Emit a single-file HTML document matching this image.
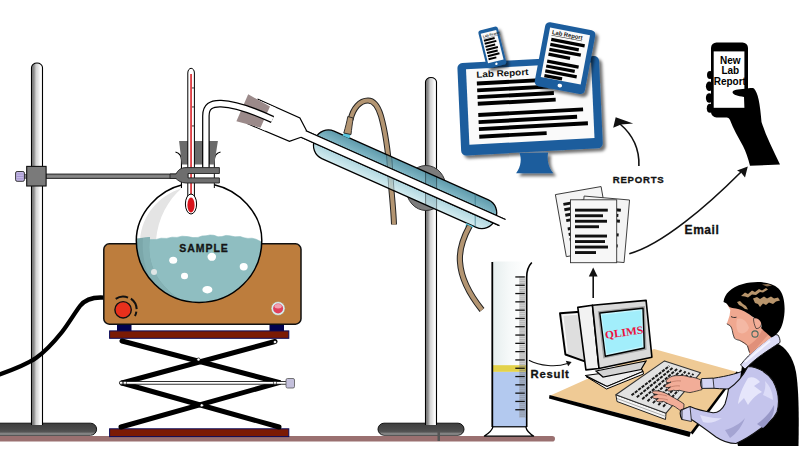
<!DOCTYPE html>
<html><head><meta charset="utf-8">
<style>
html,body{margin:0;padding:0;background:#fff;width:800px;height:475px;overflow:hidden}
svg{display:block}
text{font-family:"Liberation Sans",sans-serif}
</style></head><body>
<svg width="800" height="475" viewBox="0 0 800 475">
<defs>
<linearGradient id="pole" x1="0" x2="1" y1="0" y2="0">
<stop offset="0" stop-color="#7a7a7a"/><stop offset="0.22" stop-color="#8a8a8a"/><stop offset="0.42" stop-color="#d2d2d2"/><stop offset="0.6" stop-color="#e2e2e2"/><stop offset="0.85" stop-color="#ffffff"/><stop offset="1" stop-color="#f2f2f2"/>
</linearGradient>
<linearGradient id="base" x1="0" x2="0" y1="0" y2="1">
<stop offset="0" stop-color="#3e3e3e"/><stop offset="0.5" stop-color="#4a4a4a"/><stop offset="0.72" stop-color="#545454"/><stop offset="0.88" stop-color="#8a8a8a"/><stop offset="1" stop-color="#d8d8d8"/>
</linearGradient>
<linearGradient id="flaskTop" x1="0" x2="1" y1="0" y2="0">
<stop offset="0" stop-color="#e9e9e9"/><stop offset="0.35" stop-color="#ffffff"/><stop offset="1" stop-color="#ffffff"/>
</linearGradient>
<linearGradient id="liquid" x1="0" x2="1" y1="0" y2="0">
<stop offset="0" stop-color="#7aa6a9"/><stop offset="0.3" stop-color="#8dbcbf"/><stop offset="1" stop-color="#93c2c4"/>
</linearGradient>
<linearGradient id="jacket" x1="0" x2="0" y1="0" y2="1">
<stop offset="0" stop-color="#5e9aab"/><stop offset="0.45" stop-color="#8cc0cd"/><stop offset="0.55" stop-color="#a8d2dc"/><stop offset="1" stop-color="#d4ecf0"/>
</linearGradient>
<linearGradient id="cyl" x1="0" x2="1" y1="0" y2="0">
<stop offset="0" stop-color="#e6eeee"/><stop offset="0.5" stop-color="#f6f9f9"/><stop offset="1" stop-color="#ffffff"/>
</linearGradient>

<filter id="shadow" x="-10%" y="-10%" width="130%" height="130%">
<feGaussianBlur in="SourceAlpha" stdDeviation="1.6"/>
<feOffset dx="2.5" dy="3" result="b"/>
<feFlood flood-color="#000" flood-opacity="0.55"/>
<feComposite in2="b" operator="in"/>
<feMerge><feMergeNode/><feMergeNode in="SourceGraphic"/></feMerge>
</filter>
</defs>

<!-- floor -->
<rect x="-5" y="436" width="560" height="5.6" rx="2.8" fill="#9a7070"/>

<!-- left stand -->
<rect x="-10" y="423.2" width="106.6" height="12" rx="6" fill="url(#base)" stroke="#111" stroke-width="1"/>
<path d="M31.5,425 V67.5 A5.5,4.5 0 0 1 42.5,67.5 V425" fill="url(#pole)" stroke="#000" stroke-width="1.1"/>

<!-- right stand -->
<rect x="378" y="423.2" width="86" height="12" rx="6" fill="url(#base)" stroke="#111" stroke-width="1"/>
<path d="M425.5,425 V82 A5.5,4.5 0 0 1 436.5,82 V425" fill="url(#pole)" stroke="#000" stroke-width="1.1"/>
<rect x="437.5" y="432" width="2.5" height="9" fill="#555"/>


<!-- power cord -->
<path d="M104,297.6 C95,297 86,298.3 80,306 C74,314 69,323 62,332 C54,342 46,351 36,358 C25,365.5 12,370 -2,375" fill="none" stroke="#000" stroke-width="4.3"/>

<!-- left clamp -->
<defs><linearGradient id="rodg" x1="0" x2="0" y1="0" y2="1"><stop offset="0" stop-color="#666"/><stop offset="0.5" stop-color="#8e8e8e"/><stop offset="1" stop-color="#666"/></linearGradient></defs>
<rect x="23.5" y="174.6" width="4" height="3.6" fill="#888" stroke="#222" stroke-width="0.6"/>
<rect x="15.6" y="171.5" width="8.8" height="9.8" rx="1.5" fill="#c4b8e6" stroke="#222" stroke-width="0.9"/>
<path d="M16.5,174 H23.5 M16.5,176.4 H23.5 M16.5,178.8 H23.5" stroke="#9c8cc8" stroke-width="0.8"/>
<rect x="46" y="174" width="131" height="4.4" fill="url(#rodg)" stroke="#1a1a1a" stroke-width="0.8"/>
<rect x="26.7" y="166.4" width="19.4" height="19.6" fill="#7a7a7a" stroke="#111" stroke-width="1.1"/>

<!-- hot plate feet -->
<rect x="117" y="323" width="14.5" height="8" fill="#02024e"/>
<rect x="269.5" y="323" width="14.5" height="8" fill="#02024e"/>
<!-- hot plate -->
<rect x="103.8" y="243.8" width="197.2" height="80.4" rx="5.5" fill="#bd7d3d" stroke="#111" stroke-width="1.5"/>
<!-- knob -->
<path d="M115.72,298.86 A13.2,13.2 0 0 1 128.04,297.56 M130.90,298.66 A13.6,13.6 0 0 1 136.68,309.09 M136.37,311.66 A13.4,13.4 0 0 1 134.93,316.09" fill="none" stroke="#111" stroke-width="2"/>
<circle cx="123.1" cy="309.8" r="8.2" fill="#e8301c" stroke="#111" stroke-width="1.4"/>
<circle cx="278.1" cy="308.5" r="7" fill="#d6eef0" stroke="#b07a40" stroke-width="0.6"/>
<circle cx="278.1" cy="308.5" r="5" fill="#e0405c"/>
<ellipse cx="278.1" cy="306.3" rx="3.6" ry="2.2" fill="#f2a0b0"/>
<!-- scissor lift -->
<rect x="109.6" y="330.9" width="179.2" height="7.4" fill="#7b1a04" stroke="#0a0a5a" stroke-width="1"/>
<rect x="109.6" y="428.8" width="179.2" height="7.8" fill="#7b1a04" stroke="#0a0a5a" stroke-width="1"/>
<g stroke="#000" stroke-width="5" stroke-linecap="round">
<line x1="122" y1="341" x2="279" y2="382.5"/>
<line x1="275" y1="341.5" x2="122" y2="383"/>
<line x1="122" y1="383" x2="279" y2="427"/>
<line x1="279" y1="382.5" x2="121" y2="427"/>
</g>
<rect x="121" y="381.4" width="166" height="2.8" fill="#fff" stroke="#000" stroke-width="0.8"/>
<rect x="286" y="378.5" width="8.5" height="9.5" rx="1.5" fill="#c4c0dc" stroke="#555" stroke-width="0.8"/>
<g fill="#fff" stroke="#000" stroke-width="0.6">
<circle cx="198.5" cy="359.5" r="1.6"/><circle cx="201.8" cy="405.3" r="1.6"/>
<circle cx="275" cy="342" r="1.6"/><circle cx="121" cy="382.8" r="1.6"/><circle cx="125" cy="382.8" r="1.6"/><circle cx="275" cy="382.8" r="1.6"/>
</g>


<!-- flask -->
<clipPath id="flaskClip"><path id="flaskPath" d="M182.4,184.7 C160,190 136.3,212 136.3,240.5 A62.75,62 0 0 0 261.8,240.5 C261.8,212 238,190 214.2,184.7 Z"/></clipPath>
<path d="M182.4,184.7 C160,190 136.3,212 136.3,240.5 A62.75,62 0 0 0 261.8,240.5 C261.8,212 238,190 214.2,184.7 Z" fill="#fff"/>
<g clip-path="url(#flaskClip)">
<path d="M140,240 C142,215 158,196 182,188 C168,200 158,218 156,240 Z" fill="#e4e4e4"/>
<path d="M130,240.5 L136.3,240 L141,238.8 L145.5,238.4 L150,239.6 L156,239.5 L161,238.2 L166.6,238.4 L172,237.2 L177,237.4 L182,236.2 L187.6,236.6 L193,237.6 L198,237.4 L202,236 L206,235.8 L210,235.0 L214,235.3 L218,236.8 L221.8,236.6 L226,235.4 L229.7,235.8 L235,236.8 L240.3,236.6 L244,237.8 L248,238.4 L252,238.2 L256,239.2 L261.3,241.8 L270,242 V310 H130 Z" fill="#8fbec1" stroke="#8fbec1" stroke-width="0.6" stroke-linejoin="round"/>
<path d="M130,239 C136,238.5 142,238 150,237 C146,262 156,288 190,305 L130,310 Z" fill="#7ba7aa"/>
<path d="M150,237 C146,262 156,288 190,305 L175,305 C150,290 141,265 143,238 Z" fill="#84b1b4"/>
<g fill="#fff">
<ellipse cx="173.2" cy="260.3" rx="4" ry="3.5"/>
<ellipse cx="211.8" cy="256.8" rx="4.3" ry="4"/>
<ellipse cx="243.7" cy="266.8" rx="4" ry="3.7"/>
<ellipse cx="154" cy="272" rx="3" ry="3" fill="#dfe6e6"/>
<ellipse cx="184.5" cy="276" rx="3.5" ry="3.3"/>
<ellipse cx="207.4" cy="289.7" rx="5" ry="3.7"/>
</g>
</g>
<path d="M182.4,184.7 C160,190 136.3,212 136.3,240.5 A62.75,62 0 0 0 261.8,240.5 C261.8,212 238,190 214.2,184.7" fill="none" stroke="#000" stroke-width="1.5"/>
<text x="204" y="251.6" font-size="10.5" font-weight="bold" text-anchor="middle" letter-spacing="0.95" fill="#151515" stroke="#151515" stroke-width="0.3">SAMPLE</text>

<!-- neck -->
<path d="M181.5,188 V160 C181.5,156 179,153 175.5,152 M214.2,188 V160 C214.2,156 217,153 220.5,152" fill="none" stroke="#000" stroke-width="1.2"/>
<rect x="182.1" y="160" width="31.5" height="28" fill="#fff"/>
<!-- stopper -->
<path d="M179.1,141 H217.9 L214.2,164.6 H181.8 Z" fill="#6b6b6b"/>

<!-- upper hose (behind) -->
<path d="M350.5,120 C353,108 360,100.5 368,100.5 C374,100.5 378,106 381,116 C385,130 388,150 390,175 C392,195 393.5,210 394,224.5" fill="none" stroke="#222" stroke-width="6"/>
<path d="M350.5,120 C353,108 360,100.5 368,100.5 C374,100.5 378,106 381,116 C385,130 388,150 390,175 C392,195 393.5,210 394,224.5" fill="none" stroke="#b39572" stroke-width="4"/>
<!-- grey disk clamp behind condenser -->
<ellipse cx="426" cy="188" rx="20" ry="22.5" fill="#7c7c7c" stroke="#333" stroke-width="1"/>
<!-- condenser -->
<g transform="translate(380,168.1) rotate(24)">
  <rect x="-71" y="-15" width="197" height="30" rx="14" fill="url(#jacket)" fill-opacity="1" stroke="#000" stroke-width="1.3"/>
  <!-- hose nozzles -->
  <path d="M-47.5,-14.5 L-47,-19 L-40.5,-19 L-40,-14.5 Z" fill="#5ac8e0"/>
  <path d="M101,15 L102,19 L108,19 L109,15 Z" fill="#5ac8e0"/>
  <!-- adapter -->
  <path d="M-140,-13.3 H-93.6 L-82,-4 H135.5 L132.5,4 H-84.7 L-93.6,12.4 L-140,13.3" fill="#fff" stroke="none"/>
  <path d="M-140,-13.3 H-93.6 L-82,-4 M-84.7,4 L-93.6,12.4 L-140,13.3" fill="none" stroke="#000" stroke-width="1.2"/><rect x="-140" y="-12.6" width="20" height="25.2" fill="#fff"/>
  <!-- tube -->
  <path d="M-83,-4 H135.5 L132.5,4 H-84.7 Z" fill="#fff"/>
  <line x1="-83" y1="-4" x2="135.5" y2="-4" stroke="#000" stroke-width="1.2"/>
  <line x1="-84.7" y1="4" x2="132.5" y2="4" stroke="#000" stroke-width="1.2"/>
  <!-- sleeve -->
  <path d="M-150.4,-13.8 L-125.6,-11.6 L-125.6,11.7 L-150.3,15.5 Z" fill="#9b8a8a"/>
</g>
<clipPath id="jclip"><rect x="-71" y="-15" width="197" height="30" rx="14" transform="translate(380,168.1) rotate(24)"/></clipPath>
<g clip-path="url(#jclip)">
<rect x="425.5" y="140" width="11" height="90" fill="#0a3a4a" opacity="0.12"/>
<rect x="425" y="140" width="1.1" height="90" fill="#000" opacity="0.4"/>
<rect x="436" y="140" width="1.1" height="90" fill="#000" opacity="0.4"/>
<rect x="474.6" y="160" width="1.4" height="80" fill="#2a6a7a" opacity="0.45"/>
<path d="M385.6,140 L391.6,230 M390.6,140 L396.6,230" stroke="#000" stroke-width="1" opacity="0.35"/><path d="M388.1,140 L394.1,230" stroke="#8a7a5a" stroke-width="3.4" opacity="0.25"/>
</g>
<!-- re-draw tube over jacket seams -->
<g transform="translate(380,168.1) rotate(24)">
  <path d="M-83,-4 H135.5 L132.5,4 H-84.7 Z" fill="#fff"/>
  <line x1="-83" y1="-4" x2="135.5" y2="-4" stroke="#000" stroke-width="1.2"/>
  <line x1="-84.7" y1="4" x2="132.5" y2="4" stroke="#000" stroke-width="1.2"/>
</g>
<!-- upper hose nozzle flare -->
<path d="M343.8,133 C345.5,127 347,121 347.8,116.5 L353.2,118 C352.5,123 351.5,129 351,134.5 Z" fill="#b39572" stroke="#222" stroke-width="0.9"/>
<!-- lower hose -->
<path d="M469.6,226 C463,238 459,250 460,262 C461,278 470,295 482,310" fill="none" stroke="#222" stroke-width="6.2"/>
<path d="M469.6,226 C463,238 459,250 460,262 C461,278 470,295 482,310" fill="none" stroke="#b39572" stroke-width="4.2"/>

<!-- delivery tube -->
<path d="M205.9,168 V116 C205.9,106.5 211,103.3 221,103.6 C235,104.2 252,110 272.5,119.5" fill="none" stroke="#000" stroke-width="7.6"/>
<path d="M205.9,168 V116 C205.9,106.5 211,103.3 221,103.6 C235,104.2 252,110 272.5,119.5" fill="none" stroke="#fff" stroke-width="5.2"/>
<!-- thermometer -->
<path d="M187.8,200 V73 C187.8,70 189.5,68.3 191.1,68.3 C192.7,68.3 194.4,70 194.4,73 V200 Z" fill="#fff" stroke="#000" stroke-width="1"/>
<rect x="190.3" y="74" width="1.5" height="128" fill="#d8141c"/><rect x="192" y="87.5" width="2" height="0.9" fill="#222"/><rect x="192" y="106.5" width="2" height="0.9" fill="#222"/><rect x="192" y="125.5" width="2" height="0.9" fill="#222"/>
<ellipse cx="191" cy="204" rx="5.6" ry="10" fill="#fff" stroke="#000" stroke-width="1"/>
<ellipse cx="191" cy="205" rx="3.6" ry="7.5" fill="#d8141c"/>
<!-- clamp fork -->
<path d="M170,174 H176 C178,170 181,167.6 186,167.6 H219.4 V173.5 H188 V177.9 H219.4 V183 H186 C181,183 178,180.5 176,178.5 H170 Z" fill="#6e6e6e" stroke="#222" stroke-width="0.9"/>


<!-- graduated cylinder -->
<path d="M493,426.7 C492,431 488,434 484,436.2 H534 C530,434 526.5,431 525.8,426.7 Z" fill="#fff" stroke="#000" stroke-width="1.3"/>
<rect x="492.5" y="261.5" width="34" height="165.2" fill="url(#cyl)"/>
<rect x="492.5" y="371.8" width="34" height="55" fill="#b3c9ef"/>
<rect x="492.5" y="365.2" width="34" height="6.6" fill="#e3d24a"/>
<rect x="519" y="276" width="7" height="142" fill="#9a9a9a" opacity="0.3"/>
<rect x="515.3" y="276.3" width="9.5" height="1.3" fill="#111"/>
<rect x="519.5" y="278.5" width="5.5" height="1.4" fill="#666" opacity="0.35"/>
<rect x="519.5" y="280.6" width="5.5" height="1.4" fill="#666" opacity="0.35"/>
<rect x="519.5" y="282.6" width="5.5" height="1.4" fill="#666" opacity="0.35"/>
<rect x="515.3" y="284.6" width="9.5" height="1.3" fill="#111"/>
<rect x="519.5" y="286.8" width="5.5" height="1.4" fill="#666" opacity="0.35"/>
<rect x="519.5" y="288.9" width="5.5" height="1.4" fill="#666" opacity="0.35"/>
<rect x="519.5" y="290.9" width="5.5" height="1.4" fill="#666" opacity="0.35"/>
<rect x="515.3" y="292.9" width="9.5" height="1.3" fill="#111"/>
<rect x="519.5" y="295.1" width="5.5" height="1.4" fill="#666" opacity="0.35"/>
<rect x="519.5" y="297.2" width="5.5" height="1.4" fill="#666" opacity="0.35"/>
<rect x="519.5" y="299.2" width="5.5" height="1.4" fill="#666" opacity="0.35"/>
<rect x="515.3" y="301.2" width="9.5" height="1.3" fill="#111"/>
<rect x="519.5" y="303.4" width="5.5" height="1.4" fill="#666" opacity="0.35"/>
<rect x="519.5" y="305.5" width="5.5" height="1.4" fill="#666" opacity="0.35"/>
<rect x="519.5" y="307.5" width="5.5" height="1.4" fill="#666" opacity="0.35"/>
<rect x="515.3" y="309.5" width="9.5" height="1.3" fill="#111"/>
<rect x="519.5" y="311.7" width="5.5" height="1.4" fill="#666" opacity="0.35"/>
<rect x="519.5" y="313.8" width="5.5" height="1.4" fill="#666" opacity="0.35"/>
<rect x="519.5" y="315.8" width="5.5" height="1.4" fill="#666" opacity="0.35"/>
<rect x="515.3" y="317.8" width="9.5" height="1.3" fill="#111"/>
<rect x="519.5" y="320.0" width="5.5" height="1.4" fill="#666" opacity="0.35"/>
<rect x="519.5" y="322.1" width="5.5" height="1.4" fill="#666" opacity="0.35"/>
<rect x="519.5" y="324.1" width="5.5" height="1.4" fill="#666" opacity="0.35"/>
<rect x="515.3" y="326.1" width="9.5" height="1.3" fill="#111"/>
<rect x="519.5" y="328.3" width="5.5" height="1.4" fill="#666" opacity="0.35"/>
<rect x="519.5" y="330.4" width="5.5" height="1.4" fill="#666" opacity="0.35"/>
<rect x="519.5" y="332.4" width="5.5" height="1.4" fill="#666" opacity="0.35"/>
<rect x="515.3" y="334.4" width="9.5" height="1.3" fill="#111"/>
<rect x="519.5" y="336.6" width="5.5" height="1.4" fill="#666" opacity="0.35"/>
<rect x="519.5" y="338.7" width="5.5" height="1.4" fill="#666" opacity="0.35"/>
<rect x="519.5" y="340.7" width="5.5" height="1.4" fill="#666" opacity="0.35"/>
<rect x="515.3" y="342.7" width="9.5" height="1.3" fill="#111"/>
<rect x="519.5" y="344.9" width="5.5" height="1.4" fill="#666" opacity="0.35"/>
<rect x="519.5" y="347.0" width="5.5" height="1.4" fill="#666" opacity="0.35"/>
<rect x="519.5" y="349.0" width="5.5" height="1.4" fill="#666" opacity="0.35"/>
<rect x="515.3" y="351.0" width="9.5" height="1.3" fill="#111"/>
<rect x="519.5" y="353.2" width="5.5" height="1.4" fill="#666" opacity="0.35"/>
<rect x="519.5" y="355.3" width="5.5" height="1.4" fill="#666" opacity="0.35"/>
<rect x="519.5" y="357.3" width="5.5" height="1.4" fill="#666" opacity="0.35"/>
<rect x="515.3" y="359.3" width="9.5" height="1.3" fill="#111"/>
<rect x="519.5" y="361.5" width="5.5" height="1.4" fill="#666" opacity="0.35"/>
<rect x="519.5" y="363.6" width="5.5" height="1.4" fill="#666" opacity="0.35"/>
<rect x="519.5" y="365.6" width="5.5" height="1.4" fill="#666" opacity="0.35"/>
<rect x="515.3" y="367.6" width="9.5" height="1.3" fill="#111"/>
<rect x="519.5" y="369.8" width="5.5" height="1.4" fill="#666" opacity="0.35"/>
<rect x="519.5" y="371.9" width="5.5" height="1.4" fill="#666" opacity="0.35"/>
<rect x="519.5" y="373.9" width="5.5" height="1.4" fill="#666" opacity="0.35"/>
<rect x="515.3" y="375.9" width="9.5" height="1.3" fill="#111"/>
<rect x="519.5" y="378.1" width="5.5" height="1.4" fill="#666" opacity="0.35"/>
<rect x="519.5" y="380.2" width="5.5" height="1.4" fill="#666" opacity="0.35"/>
<rect x="519.5" y="382.2" width="5.5" height="1.4" fill="#666" opacity="0.35"/>
<rect x="515.3" y="384.2" width="9.5" height="1.3" fill="#111"/>
<rect x="519.5" y="386.4" width="5.5" height="1.4" fill="#666" opacity="0.35"/>
<rect x="519.5" y="388.5" width="5.5" height="1.4" fill="#666" opacity="0.35"/>
<rect x="519.5" y="390.5" width="5.5" height="1.4" fill="#666" opacity="0.35"/>
<rect x="515.3" y="392.5" width="9.5" height="1.3" fill="#111"/>
<rect x="519.5" y="394.7" width="5.5" height="1.4" fill="#666" opacity="0.35"/>
<rect x="519.5" y="396.8" width="5.5" height="1.4" fill="#666" opacity="0.35"/>
<rect x="519.5" y="398.8" width="5.5" height="1.4" fill="#666" opacity="0.35"/>
<rect x="515.3" y="400.8" width="9.5" height="1.3" fill="#111"/>
<rect x="519.5" y="403.0" width="5.5" height="1.4" fill="#666" opacity="0.35"/>
<rect x="519.5" y="405.1" width="5.5" height="1.4" fill="#666" opacity="0.35"/>
<rect x="519.5" y="407.1" width="5.5" height="1.4" fill="#666" opacity="0.35"/>
<rect x="515.3" y="409.1" width="9.5" height="1.3" fill="#111"/>
<rect x="519.5" y="411.3" width="5.5" height="1.4" fill="#666" opacity="0.35"/>
<rect x="519.5" y="413.4" width="5.5" height="1.4" fill="#666" opacity="0.35"/>
<rect x="519.5" y="415.4" width="5.5" height="1.4" fill="#666" opacity="0.35"/>
<path d="M492.3,262 V427" stroke="#000" stroke-width="1.8" fill="none"/>
<path d="M526.7,427 V277 C526.7,270 528.5,266 531.8,262.5" stroke="#000" stroke-width="1.6" fill="none"/>
<line x1="492.5" y1="426.7" x2="526.5" y2="426.7" stroke="#000" stroke-width="1"/>


<!-- ===== digital monitor ===== -->
<g filter="url(#shadow)">
<path d="M519.5,153 C521.5,158 521.5,166 516.1,173.2 H553.2 C547.5,166 547,158 548.2,152.5 Z" fill="#1d5d9d"/>
<g transform="translate(530.2,105.95) matrix(1,-0.054,0.045,1,0,0)">
<rect x="-70.9" y="-46.4" width="141.6" height="92.3" rx="5" fill="#1d5d9d"/>
</g>
</g>
<g transform="translate(530.2,105.95) matrix(1,-0.054,0.045,1,0,0)">
<rect x="-62.4" y="-40" width="125.1" height="75.4" fill="#fafafa"/>
<text x="-52.3" y="-31.1" font-size="8.8" font-weight="bold" fill="#111" textLength="52" lengthAdjust="spacingAndGlyphs">Lab Report</text>
<g fill="#000">
<rect x="-52.2" y="-27.2" width="80" height="3.9"/>
<rect x="-52.2" y="-20.3" width="80" height="3.9"/>
<rect x="-52.2" y="-13.6" width="76.4" height="3.9"/>
<rect x="-52.2" y="-6.9" width="77.9" height="3.9"/>
<rect x="-52.2" y="4.3" width="104.8" height="3.9"/>
<rect x="-52.2" y="11.4" width="98.5" height="3.9"/>
<rect x="-52.2" y="18.4" width="109" height="3.9"/>
<rect x="-52.2" y="26.0" width="67.4" height="3.9"/>
</g>
</g>
<!-- tablet -->
<g filter="url(#shadow)">
<g transform="translate(565,58.2) rotate(10.7)">
<rect x="-25.5" y="-32.5" width="51" height="65" rx="4.5" fill="#1d5d9d"/>
</g>
</g>
<g transform="translate(565,58.2) rotate(10.7)">
<rect x="-20.3" y="-27.3" width="40.6" height="50.3" fill="#fafafa"/>
<ellipse cx="0" cy="27.9" rx="2.3" ry="1.8" fill="#fff"/>
<text x="-17.5" y="-21.3" font-size="6" font-weight="bold" fill="#222" text-decoration="underline" textLength="31" lengthAdjust="spacingAndGlyphs">Lab Report</text>
<g fill="#000">
<rect x="-17" y="-17.5" width="34" height="3.3"/>
<rect x="-17" y="-12.5" width="29" height="3.3"/>
<rect x="-17" y="-7.5" width="32" height="3.3"/>
<rect x="-17" y="-2.5" width="22" height="3.3"/>
<rect x="-17" y="4.5" width="32" height="3.3"/>
<rect x="-17" y="9.5" width="29" height="3.3"/>
<rect x="-17" y="14.5" width="32" height="3.3"/>
<rect x="-17" y="19.3" width="18" height="3.3"/>
</g>
</g>
<!-- phone -->
<g filter="url(#shadow)">
<g transform="translate(492.3,47.35) rotate(-14)">
<rect x="-10.1" y="-19.5" width="20.2" height="39" rx="3" fill="#1f5f9e"/>
</g>
</g>
<g transform="translate(492.3,47.35) rotate(-14)">
<rect x="-8" y="-16" width="16" height="30.5" fill="#fafafa"/>
<circle cx="0" cy="17" r="1.2" fill="#fff"/>
<text x="-6.5" y="-11.5" font-size="3.3" font-weight="bold" fill="#222" text-decoration="underline">Lab Report</text>
<g fill="#000">
<rect x="-6.5" y="-9.5" width="11" height="2"/>
<rect x="-6.5" y="-6.3" width="12" height="2"/>
<rect x="-6.5" y="-3.1" width="10" height="2"/>
<rect x="-6.5" y="0.1" width="12" height="2"/>
<rect x="-6.5" y="3.3" width="11" height="2"/>
<rect x="-6.5" y="6.5" width="12" height="2"/>
<rect x="-6.5" y="9.7" width="8" height="2"/>
</g>
</g>


<!-- ===== arrows & labels ===== -->
<g fill="none" stroke="#111" stroke-width="1.6">
<path d="M638.9,166 C639.5,150 633,135 620,124"/>
<path d="M629.3,253.75 C662,245 708,205 741,172"/>
<path d="M593.2,298 V274"/>
<path d="M528.9,360.2 C540,366 556,367.5 567.5,363.5" stroke-width="1.1"/>
</g>
<g fill="#111">
<path d="M615.7,117.3 L613.2,127.8 L621,124.5 L633.2,123.6 Z"/>
<path d="M747.8,166.5 L737,170.4 L741,172.5 L745,177.4 Z"/>
<path d="M593.2,267.4 L588.8,276.5 L597.6,276.5 Z"/>
<path d="M571.6,362.1 L565.8,360.8 L568.2,366.3 Z"/>
</g>
<text x="612.8" y="182.8" font-size="9.6" font-weight="bold" letter-spacing="0.75" fill="#111" stroke="#111" stroke-width="0.3">REPORTS</text>
<text x="684.6" y="233.6" font-size="12" font-weight="bold" letter-spacing="0.55" fill="#111" stroke="#111" stroke-width="0.3">Email</text>
<text x="530.6" y="378.3" font-size="11.3" font-weight="bold" letter-spacing="0.75" fill="#111" stroke="#111" stroke-width="0.3">Result</text>

<!-- ===== papers ===== -->
<g stroke="#333" stroke-width="0.9">
<g transform="translate(583.7,221.6) rotate(-10)">
<rect x="-23.2" y="-31.5" width="46.4" height="63" fill="#f4f4f4"/>
<g fill="#111" stroke="none"><rect x="-17" y="-22" width="30" height="3"/><rect x="-17" y="-16.5" width="28" height="3"/><rect x="-17" y="-11" width="30" height="3"/><rect x="-17" y="-5.5" width="24" height="3"/><rect x="-17" y="3" width="30" height="3"/><rect x="-17" y="8.5" width="28" height="3"/><rect x="-17" y="14" width="30" height="3"/><rect x="-17" y="19.5" width="22" height="3"/></g>
</g>
<g transform="translate(604.1,229.3) rotate(5)">
<rect x="-22.8" y="-31.4" width="45.6" height="62.8" fill="#f4f4f4"/>
<g fill="#111" stroke="none"><rect x="-17" y="-22" width="32" height="3"/><rect x="-17" y="-16.5" width="30" height="3"/><rect x="-17" y="-11" width="32" height="3"/><rect x="-17" y="-5.5" width="26" height="3"/><rect x="-17" y="3" width="32" height="3"/><rect x="-17" y="8.5" width="30" height="3"/><rect x="-17" y="14" width="32" height="3"/></g>
</g>
<rect x="570.5" y="199.8" width="46.2" height="62.9" fill="#f7f7f7"/>
</g>
<g fill="#111">
<rect x="575" y="208.7" width="32.8" height="2.9"/>
<rect x="575" y="214.3" width="28" height="2.9"/>
<rect x="575" y="219.8" width="32" height="2.9"/>
<rect x="575" y="225.3" width="24" height="2.9"/>
<rect x="575" y="234.6" width="32" height="2.9"/>
<rect x="575" y="240.1" width="30" height="2.9"/>
<rect x="575" y="245.6" width="33" height="2.9"/>
<rect x="575" y="251.1" width="21" height="2.9"/>
</g>

<!-- ===== hand + phone ===== -->
<g fill="#000">
<ellipse cx="710" cy="75" rx="3" ry="4"/>
<ellipse cx="709.3" cy="86.3" rx="3.4" ry="4.8"/>
<ellipse cx="709.3" cy="98" rx="3.4" ry="4.8"/>
<ellipse cx="710" cy="108.3" rx="3.2" ry="4.5"/>
<rect x="711" y="42.4" width="37" height="75" rx="5.5"/>
</g>
<rect x="713.7" y="51.4" width="30.7" height="56.4" fill="#fff"/>
<g font-size="10" font-weight="bold" fill="#000" text-anchor="middle">
<text x="730.3" y="63.7">New</text>
<text x="730.3" y="74.4">Lab</text>
<text x="729.8" y="84.5">Report</text>
</g>
<path d="M744,97 C738,96 733,95 732.5,92.3 C732.5,89.8 738,89.5 745,88.8 C749,88.4 752,87.5 754,88.5 C758,93 760,103 761.5,122 C766,136 773,150 780,164.5 L750,165.8 C748,158 746,152 743,146 C738,137 733,128 730,120 C728,116 722,114.5 711,114 L745,108 Z" fill="#000"/>


<!-- ===== desk ===== -->
<path d="M550.4,395.6 L654,349 L737,372 L692,432 Z" fill="#efca95"/>
<path d="M549.5,395 L691,432 L689.5,437 L549,398.5 Z" fill="#000"/>
<path d="M690.5,432.5 L736.5,371.5 L738.5,372.5 L692.5,434.5 Z" fill="#000"/>
<!-- ===== CRT ===== -->
<path d="M560,313.3 L580,311.8 L585.5,361.6 L565.4,354.5 Z" fill="#dedede" stroke="#000" stroke-width="1.9" stroke-linejoin="round"/>
<path d="M562.5,315.3 L577.5,314.2 M562.7,315.5 L567.3,352.5" stroke="#fff" stroke-width="1.1" fill="none"/>
<path d="M585.5,375.5 L641,368 L643,371.5 L607,386.5 Z" fill="#ececec" stroke="#000" stroke-width="1.2" stroke-linejoin="round"/>
<path d="M586,376.5 L606.5,389 L643.5,374 L643,371.5 L607,386.5 Z" fill="#fafafa" stroke="#000" stroke-width="1"/>
<path d="M596,371 L646,361 L641,369.5 L603,377 Z" fill="#d4d4d4" stroke="#000" stroke-width="1.2"/>
<path d="M577.8,307.4 L592.5,305.3 L599,368.5 L585.9,369.9 Z" fill="#f2f2f2" stroke="#000" stroke-width="1.6" stroke-linejoin="round"/>
<path d="M592.5,305.3 L646.1,300.4 L651.9,357.2 L599,368.5 Z" fill="#dadada" stroke="#000" stroke-width="1.6" stroke-linejoin="round"/>
<path d="M597.8,311.2 L644.8,306 L646.5,349.8 L603.3,358.6 Z" fill="#9e9e9e"/>
<path d="M599.8,313 L643,308.2 L644.3,348 L605.3,356.2 Z" fill="#c4f6fe" stroke="#000" stroke-width="1.4" stroke-linejoin="round"/><path d="M601.8,315 L641,310.6 L642.2,346.2 L606.8,353.8 Z" fill="#a2eefb"/>
<text x="0" y="0" transform="translate(605.5,338.8) rotate(-8)" style="font-family:'Liberation Serif',serif" font-size="11" font-weight="bold" fill="#ec1040" textLength="38.5" lengthAdjust="spacingAndGlyphs">QLIMS</text>

<!-- ===== keyboard ===== -->
<path d="M615.9,394.8 L666,413.2 L665.5,419.5 L617,401.5 Z" fill="#f4f4f4" stroke="#222" stroke-width="1"/><path d="M617,398.5 L665.8,416.5" stroke="#999" stroke-width="0.8"/>
<path d="M615.9,394.8 L664.5,360.9 L700.6,372.7 L666,413.2 Z" fill="#e2e2e2" stroke="#333" stroke-width="1.1" stroke-linejoin="round"/>
<g stroke="#1a1a1a" stroke-width="2" stroke-dasharray="3.2,1.1" fill="none">
<path d="M631.5,395.3 L669.3,366.0"/><path d="M636.8,397.3 L673.3,367.3"/><path d="M642.2,399.2 L677.4,368.7"/><path d="M647.5,401.2 L681.5,370.0"/><path d="M652.9,403.1 L685.6,371.4"/><path d="M658.3,405.1 L689.6,372.7"/><path d="M663.1,406.8 L693.4,373.9"/>
</g>
<!-- ===== person ===== -->
<!-- back hand -->
<path d="M702,380.5 C697,378 693,377 689.5,377 C685,375.5 682,375.3 679,375.6 C675,375.5 672.5,375.8 670.5,377 C667.5,378.5 665.5,380.5 666.3,382 C667,383 669,382.8 671,382 C668,383.8 664.5,385 665,386.5 C665.5,388 668,387.8 670.5,387 C668.5,388.5 666.8,389.5 667.6,390.5 C668.5,391.6 671,391 673.5,390.3 C676,390.8 678,390.5 679.5,390.3 C684,391.5 688,392.5 690,392.6 C695,391.5 699,390.5 702,389.6 Z" fill="#f2ad98" stroke="#222" stroke-width="0.8" stroke-linejoin="round"/>
<path d="M671,382 C675,381 678,380.5 681,381 M670.5,387 C674,386 677,385.5 680,386" fill="none" stroke="#b06a58" stroke-width="0.6"/>
<!-- back arm -->
<path d="M750,368 C740,373 728,376 713,378.3 L702,378.6 C700,381.5 700,385 702,388.4 L713,388.2 C722,389 730,389.5 740,388 Z" fill="#c6c6ee" stroke="#111" stroke-width="1"/>
<path d="M701.5,378.6 L713,378.2 L714,388.2 L702,388.4 Z" fill="#d4d4f4" stroke="#111" stroke-width="0.8"/>
<!-- vest -->
<path d="M742,366 L776,343 C786,347 793,357 796,372 C799,390 799,420 798.5,446 L738,446 L733,425 Z" fill="#000"/>
<!-- front hand -->
<path d="M684,404 C680,401 676,399 670,395.5 C666,393 662,391.5 658.5,391 C655,390.5 652,391 652.3,392.5 C652.6,393.8 655,394.2 657.5,394.5 C654.5,395 652,396 652.8,397.5 C653.5,398.8 656,398.8 658.5,398.6 C656.5,399.5 655.5,400.5 656.8,401.3 C658.5,402.2 661,401.8 663.5,401.4 C667,403 670.5,405.5 673.3,405.8 C676.5,407.5 679.5,410 683.6,413.2 Z" fill="#f2ad98" stroke="#222" stroke-width="0.8" stroke-linejoin="round"/>
<path d="M657.5,394.5 C661,394.5 664,395 667,396 M658.5,398.6 C662,398.5 665,399 668,400" fill="none" stroke="#b06a58" stroke-width="0.6"/>
<!-- front arm -->
<path d="M748,366.5 C757,366.5 767,372 773,381 C778,390 780,401 777,412 C773,420 767,424 760,429 C752,435 744,440 736,443.5 C728,443.5 722,441 716,437 C708,431 700,425 690,418.5 L682,419.5 C680,416 680,412 681,410 L690,406.5 C697,409.5 705,411.5 713,412.8 C719,413 722,410 725,404 C727,398 728,393 728.5,389 C736,384 743,376 748,366.5 Z" fill="#c4c4ec" stroke="#111" stroke-width="1.1"/>
<path d="M748,378 C752,376 757,378 760,382 L754,386 L762,392 C757,394 752,399 748,405 L744,398 L738,404 C739,396 742,388 748,378 Z" fill="#e6e6fb"/>
<path d="M765,381 C770,386 773,393 773,400 C769,398 766,396 763,395 C765,390 766,386 765,381 Z" fill="#dcdcf8"/>
<path d="M757,424 C764,419 770,413 774,405 C775,413 771,421 763,428 Z" fill="#9898c8"/>
<path d="M725,430 C732,428 740,424 745,418 C742,426 737,433 730,438 Z" fill="#a4a4d2"/>
<path d="M700,415 C708,417 716,419 722,418 C716,422 709,424 703,422 Z" fill="#e0e0f8"/>
<path d="M682,410 L690,406.5 L691.5,421.5 L682,419.5 Z" fill="#d4d4f4" stroke="#111" stroke-width="0.8"/>
<!-- collar -->
<path d="M740.5,365 C745,359 751,353 758,347 C764,342 769,338 774,334.3 L778,335 C779.5,337.5 780.3,340 780,342.5 C774,346.5 767,351 760,356 C754,360.5 749,365 745,369 Z" fill="#dcdcf6" stroke="#111" stroke-width="0.9"/>
<path d="M745,362 C752,356 760,349 770,341" fill="none" stroke="#f4f4ff" stroke-width="2"/>
<!-- face / neck -->
<path d="M727,304 L745,311 L754,318 L761,327 L770,333 L774,335 L758,347.5 L750,354.5 L747.4,345.7 L739.2,340.2 L734.4,338.2 L733,334 L732.3,330.6 L730.3,325.8 L726.8,323.8 L728.2,319.7 L729.6,315.5 L730.3,310 Z" fill="#f0a890"/>
<path d="M737,319 C742,317 747,321 749,328 C747,333 742,335 738,332 C736,328 736,323 737,319 Z" fill="#f4b8a4"/>
<path d="M747.4,345.7 C752,344 758,339 762,330 L770,333 L750,354.5 Z" fill="#e0907a"/>
<path d="M726.8,323.8 L730.3,325.8 C731.5,327.5 732,329 732.3,330.6 L733,334 L734.4,338.2 C736,339.5 737.5,340 739.2,340.2 C743,342 746,344 747.4,345.7 L749.5,352.5" fill="none" stroke="#222" stroke-width="0.8"/>
<path d="M731,316.5 C732.5,317.5 734.5,317.8 736.5,317.2" fill="none" stroke="#222" stroke-width="0.9"/>
<!-- ear -->
<path d="M753.5,318.5 C757,316.5 761,318 761.5,322 C762,326 759,329 756,328.5 C754.5,325 753.5,322 753.5,318.5 Z" fill="#f2ae98" stroke="#222" stroke-width="0.7"/>
<!-- hair -->
<path d="M723.5,302 C724.5,294 731,287 743,284 C756,280.5 771,281.5 778.5,288.5 C785,295 786,310 783,322 C781,330 777,335 771.5,337.5 C767,333.5 764,331 761.2,328.2 C762.5,323 760,318.5 754.5,318 C751,315.5 747,312.5 744.7,311.4 C741,309.5 737.5,308.7 732.3,308 C730,307.5 728.5,306.5 727.8,305 C726.5,303.2 725,302.6 723.5,302 Z" fill="#000"/>
<path d="M741,296 L745,292.5 L748,294 L752,290.5 L755,292 L759,289 L762,290.5 L766,288 L768,289.5 L763,292.5 L760,292 L756,295 L752,294.5 L748,297.5 L745,296.5 Z" fill="#b8956c"/>
<path d="M753,298.5 L757,297 L760,299 L764,296.5 L767,298.5 L771,296.5 L774,298.5 L778,297.5 L780,300.5 L776,301.5 L773,304 L769,302.5 L766,305 L763,303.5 L760,307 L758,304 L755,303 Z" fill="#b8956c"/>
<path d="M737,302 L740,301 L743,304 L746,306 L748,309.5 L745,309 L742,306.5 L739,305 Z" fill="#b8956c"/>
<path d="M762,284.5 L768,284 L772,285.5 L767,286.5 Z" fill="#8a6e50"/>
<circle cx="755" cy="334" r="3.1" fill="none" stroke="#4a6a60" stroke-width="1.1"/>

</svg>
</body></html>
